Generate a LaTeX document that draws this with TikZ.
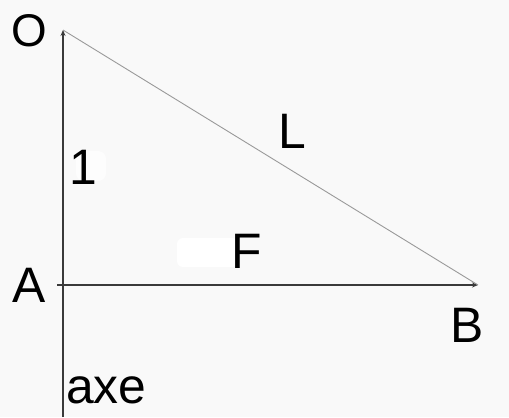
\documentclass[tikz,border=0pt]{standalone}
\usepackage{fontspec}
\setmainfont{Liberation Sans}
\usetikzlibrary{arrows.meta}
\definecolor{paper}{HTML}{F9F9F9}
\definecolor{inkline}{HTML}{3A3A3A}

\tikzset{
  lbl/.style={inner sep=0pt, font=\fontsize{50}{50}\selectfont},
  axisline/.style={draw=inkline, line width=1.4pt},
  slant/.style={draw=black!40, line width=0.9pt},
}

\begin{document}
\begin{tikzpicture}[x=1bp, y=1bp]
\fill[paper] (0,0) rectangle (509,417);
\useasboundingbox (0,0) rectangle (509,417);
% erased spots
\fill[white, rounded corners=6pt] (177,150) rectangle (238,179);
\fill[white!60!paper, rounded corners=8pt] (76,236) rectangle (106,266);

\coordinate (O) at (63,387);
\coordinate (A) at (63,132);
\coordinate (B) at (478,132);
\coordinate (foot) at (63,0);
\coordinate (tick) at (57,132);

\draw[axisline, -{Stealth[length=6pt,width=5pt]}] (foot) -- (O);
\draw[axisline, -{Stealth[length=6pt,width=5pt]}] (A) -- (B);
\draw[axisline] (tick) -- (A);
\draw[slant] (O) -- (B);

\node[lbl, font=\fontsize{46}{46}\selectfont] (lO) at (29,386) {O};
\node[lbl] (lA) at (29,132) {A};
\node[lbl] (lB) at (467,92) {B};
\node[lbl] (lL) at (292,286) {L};
\node[lbl] (lF) at (247,166) {F};
\node[lbl] (l1) at (83,250) {1};
\node[lbl, anchor=base west] (laxe) at (66,14) {axe};
\end{tikzpicture}
\end{document}
